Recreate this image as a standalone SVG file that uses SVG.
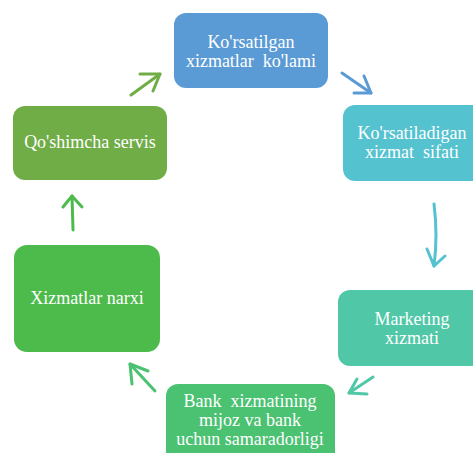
<svg xmlns="http://www.w3.org/2000/svg" width="473" height="453" viewBox="0 0 473 453">
<style>
.t{font-family:"Liberation Serif","Times New Roman",serif;font-size:18px;fill:#fff;text-anchor:middle}
.a{fill:none;stroke-width:3;stroke-linecap:round;stroke-linejoin:round}
</style>
<rect width="473" height="453" fill="#fff"/>
<g id="n1"><rect x="174" y="13" width="154" height="75" rx="12" fill="#5B9BD5"/>
<text class="t" x="251" y="48">Ko'rsatilgan</text><text class="t" x="251" y="67" xml:space="preserve">xizmatlar  ko'lami</text></g>
<g id="n2"><rect x="343" y="105" width="150" height="76" rx="12" fill="#55C2D0"/>
<text class="t" x="412" y="139">Ko'rsatiladigan</text><text class="t" x="412" y="158" xml:space="preserve">xizmat  sifati</text></g>
<g id="n3"><rect x="338" y="290" width="150" height="76" rx="12" fill="#50C8A7"/>
<text class="t" x="412" y="325">Marketing</text><text class="t" x="412" y="344">xizmati</text></g>
<g id="n4"><rect x="166" y="384" width="169" height="80" rx="12" fill="#4BC172"/>
<text class="t" x="250" y="407" xml:space="preserve">Bank  xizmatining</text><text class="t" x="250" y="426">mijoz va bank</text><text class="t" x="250" y="445">uchun samaradorligi</text></g>
<g id="n5"><rect x="14" y="245" width="146" height="107" rx="13" fill="#4CBB4B"/>
<text class="t" x="87" y="304">Xizmatlar narxi</text></g>
<g id="n6"><rect x="13" y="106" width="154" height="74" rx="12" fill="#70AD47"/>
<text class="t" x="90" y="148">Qo'shimcha servis</text></g>
<g id="connectors">
<g stroke="#70AD47" class="a"><path d="M131 95 L160 74"/><path d="M140 74 L160 74 L153 91"/></g>
<g stroke="#5B9BD5" class="a"><path d="M342 73 L371 93"/><path d="M364 76 L371 93 L354 93"/></g>
<g stroke="#55C2D0" class="a"><path d="M434 204 Q438 235 434 266"/><path d="M427 249 L434 266 L445 256"/></g>
<g stroke="#50C8A7" class="a"><path d="M373 377 L349 393"/><path d="M357 379 L349 393 L367 394"/></g>
<g stroke="#4BC172" class="a"><path d="M155 391 L130 364"/><path d="M148 371 L130 364 L132 384"/></g>
<g stroke="#4CBB4B" class="a"><path d="M73 230 L72 196"/><path d="M63 207 L72 196 L82 207"/></g>
</g>
</svg>
